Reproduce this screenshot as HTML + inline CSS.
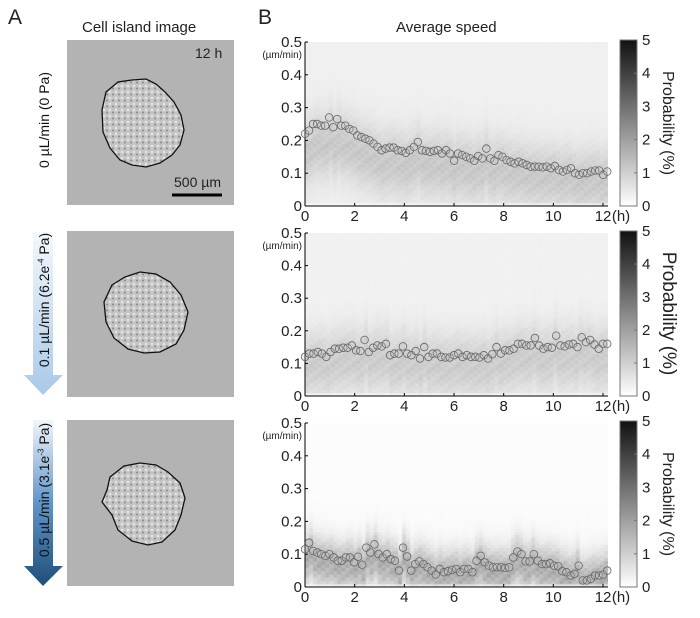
<!DOCTYPE html>
<html><head><meta charset="utf-8">
<style>
body{margin:0;background:#fff;font-family:"Liberation Sans",sans-serif;}
#root{position:relative;width:700px;height:618px;overflow:hidden;}
.abs{position:absolute;}
.t{position:absolute;font-size:15px;color:#222;white-space:nowrap;}
.rot{position:absolute;transform:translate(-50%,-50%) rotate(-90deg);white-space:nowrap;font-size:14px;color:#111;}
</style></head>
<body>
<div id="root">
<div class="t" style="left:8px;top:6px;font-size:21px">A</div>
<div class="t" style="left:258px;top:6px;font-size:21px">B</div>
<div class="t" style="left:82px;top:19px;font-size:15px">Cell island image</div>
<div class="t" style="left:396px;top:19px;font-size:15px">Average speed</div>

<svg class="abs" style="left:0;top:0" width="260" height="618">
<defs>
<linearGradient id="g1" x1="0" y1="0" x2="0" y2="1"><stop offset="0" stop-color="#f4f8fc"/><stop offset="1" stop-color="#a8c9e8"/></linearGradient>
<linearGradient id="g2" x1="0" y1="0" x2="0" y2="1"><stop offset="0" stop-color="#f2f6fb"/><stop offset="0.5" stop-color="#5f95c9"/><stop offset="1" stop-color="#1f4e7a"/></linearGradient>
<pattern id="speck" width="6" height="6" patternUnits="userSpaceOnUse"><rect width="6" height="6" fill="#c4c4c4"/><circle cx="2" cy="2" r="1.3" fill="#e4e4e4"/><circle cx="5" cy="4.5" r="1" fill="#8a8a8a"/></pattern>
</defs>
<g><polygon points="33,232 53,232 53,375 63,375 43,395 24,375 33,375" fill="url(#g1)"/></g>
<g><polygon points="33,420 53,420 53,566 63,566 43,586 24,566 33,566" fill="url(#g2)"/></g>
<g>
<rect x="67" y="40" width="167" height="165" fill="#b3b3b3"/>
<path d="M106,92 L118,82 L132,80 L146,79 L156,84 L165,92 L174,102 L181,115 L184,130 L180,145 L172,155 L160,163 L146,167 L132,165 L120,160 L110,148 L103,132 L102,110 Z" fill="url(#speck)" stroke="#111" stroke-width="1.3"/>
<line x1="172" y1="195" x2="222" y2="195" stroke="#000" stroke-width="3"/>
</g>
<g>
<rect x="67" y="231" width="167" height="166" fill="#b3b3b3"/>
<path d="M112,285 L125,277 L140,272 L156,274 L170,282 L181,295 L188,312 L184,330 L176,344 L160,352 L144,353 L128,349 L114,338 L106,322 L104,302 Z" fill="url(#speck)" stroke="#111" stroke-width="1.3"/>
</g>
<g>
<rect x="67" y="420" width="167" height="166" fill="#b3b3b3"/>
<path d="M110,477 L124,466 L140,463 L156,465 L168,472 L180,483 L185,498 L181,515 L175,530 L162,542 L148,545 L132,541 L118,530 L112,515 L102,502 L107,490 Z" fill="url(#speck)" stroke="#111" stroke-width="1.3"/>
</g>
</svg>
<div class="t" style="left:195px;top:45px;font-size:14px">12 h</div>
<div class="t" style="left:174px;top:174px;font-size:14px">500 µm</div>
<div class="rot" style="left:44px;top:120px">0 µL/min (0 Pa)</div>
<div class="rot" style="left:44px;top:300px">0.1 µL/min (6.2e<sup style="font-size:8px">-4</sup> Pa)</div>
<div class="rot" style="left:44px;top:490px">0.5 µL/min (3.1e<sup style="font-size:8px">-3</sup> Pa)</div>

<div id="charts"></div>
</div>
<script>
// Data: average speed (µm/min) vs time (h), three flow conditions
const speed0 = [0.22,0.23,0.25,0.25,0.245,0.245,0.27,0.24,0.265,0.245,0.245,0.235,0.23,0.215,0.21,0.205,0.20,0.19,0.18,0.17,0.175,0.178,0.178,0.17,0.168,0.162,0.17,0.18,0.195,0.17,0.168,0.165,0.168,0.17,0.16,0.17,0.16,0.138,0.16,0.155,0.15,0.145,0.138,0.152,0.145,0.175,0.145,0.138,0.155,0.15,0.14,0.135,0.13,0.135,0.13,0.125,0.12,0.12,0.12,0.118,0.12,0.115,0.122,0.11,0.105,0.11,0.115,0.10,0.095,0.10,0.10,0.105,0.108,0.108,0.095,0.105];
const speed1 = [0.12,0.13,0.13,0.135,0.13,0.12,0.135,0.145,0.145,0.148,0.148,0.155,0.14,0.138,0.172,0.135,0.148,0.155,0.152,0.16,0.125,0.13,0.13,0.152,0.13,0.125,0.138,0.115,0.15,0.12,0.13,0.13,0.12,0.118,0.118,0.125,0.13,0.12,0.125,0.12,0.12,0.118,0.125,0.115,0.128,0.15,0.13,0.14,0.14,0.145,0.16,0.16,0.155,0.155,0.178,0.155,0.145,0.15,0.148,0.185,0.155,0.152,0.158,0.16,0.15,0.18,0.165,0.172,0.158,0.145,0.16,0.16];
const speed2 = [0.115,0.135,0.11,0.105,0.10,0.095,0.10,0.09,0.08,0.08,0.09,0.09,0.075,0.092,0.068,0.12,0.105,0.13,0.10,0.09,0.10,0.085,0.08,0.05,0.12,0.093,0.05,0.07,0.078,0.07,0.06,0.05,0.038,0.055,0.045,0.048,0.052,0.055,0.045,0.055,0.055,0.045,0.08,0.095,0.075,0.065,0.06,0.06,0.06,0.058,0.06,0.09,0.108,0.10,0.078,0.078,0.10,0.08,0.07,0.07,0.072,0.065,0.063,0.048,0.045,0.035,0.04,0.065,0.02,0.02,0.025,0.035,0.035,0.038,0.05];
// Heatmap intensity parameters (background %, peak %, spread µm/min) per panel
const bgProb = [0.25, 0.22, 0.01];
const peakProb = [0.85, 0.8, 1.6];
const spreadVal = [0.07, 0.07, 0.05];
const xTicks = [0,2,4,6,8,10,12];
const yTicks = [0,0.1,0.2,0.3,0.4,0.5];
const cbTicks = [0,1,2,3,4,5];
const tMax = 12.17;

const panels = [{top:42,bot:206,data:speed0,cbLabelSize:16},{top:233,bot:396,data:speed1,cbLabelSize:19},{top:423,bot:587,data:speed2,cbLabelSize:16}];
const X0=305, X1=608;
const NS='http://www.w3.org/2000/svg';
panels.forEach((p,pi)=>{
  const xs=t=>X0+(t/12.2)*(X1-X0);
  const ys=v=>p.bot-(v/0.5)*(p.bot-p.top);
  const cv=document.createElement('canvas');
  cv.width=X1-X0; cv.height=p.bot-p.top;
  cv.style.cssText=`position:absolute;left:${X0}px;top:${p.top}px`;
  
  
  document.getElementById('root').appendChild(cv);
  const ctx=cv.getContext('2d');
  const n=p.data.length, cw=(X1-X0)/n;
  for(let i=0;i<n;i++){
    const m=p.data[i]*0.75;
    for(let b=0;b<50;b++){
      const v=(b+0.5)*0.01;
      let pr=bgProb[pi]*(pi==2?Math.max(0,1-v/0.3)*8:1)+peakProb[pi]*Math.exp(-((v-m)**2)/(2*spreadVal[pi]**2))*(0.8+0.4*((i*7+b*3)%5)/5);
      if(v<0.015) pr*=0.4;
      const g=Math.max(0,Math.min(255,Math.round(252-pr/5*240)));
      ctx.fillStyle=`rgb(${g},${g},${g})`;
      const y0=ys(v+0.005)-p.top, y1=ys(v-0.005)-p.top;
      ctx.fillRect(i*cw,y0,cw+0.5,y1-y0+0.5);
    }
  }
  const svg=document.createElementNS(NS,'svg');
  svg.setAttribute('width',700);svg.setAttribute('height',618);
  svg.style.cssText='position:absolute;left:0;top:0';
  
  
  let h='';
  h+=`<g><line x1="${X0}" y1="${p.top}" x2="${X0}" y2="${p.bot}" stroke="#000"/><line x1="${X0}" y1="${p.bot}" x2="${X1}" y2="${p.bot}" stroke="#000"/></g>`;
  xTicks.forEach(t=>{h+=`<line x1="${xs(t)}" y1="${p.bot}" x2="${xs(t)}" y2="${p.bot-3}" stroke="#000"/><text x="${xs(t)}" y="${p.bot+15}" font-size="15" text-anchor="middle" fill="#222">${t}</text>`;});
  h+=`<text x="${X1+13}" y="${p.bot+15}" font-size="15" text-anchor="middle" fill="#222">(h)</text>`;
  yTicks.forEach(v=>{h+=`<line x1="${X0}" y1="${ys(v)}" x2="${X0+3}" y2="${ys(v)}" stroke="#000"/><text x="${X0-3}" y="${ys(v)+5}" font-size="15" text-anchor="end" fill="#222">${v}</text>`;});
  h+=`<text x="${X0-3}" y="${p.top+16}" font-size="10" text-anchor="end" fill="#222">(µm/min)</text>`;
  p.data.forEach((v,i)=>{const t=i*tMax/(n-1);h+=`<circle cx="${xs(t)}" cy="${ys(v)}" r="3.8" fill="rgba(200,200,200,0.25)" stroke="#666" stroke-width="0.8"/>`;});
  const cbT=p.top-2,cbB=p.bot;
  h+=`<defs><linearGradient id="cb${pi}" x1="0" y1="1" x2="0" y2="0"><stop offset="0" stop-color="#fff"/><stop offset="1" stop-color="#111"/></linearGradient></defs>`;
  h+=`<rect x="620" y="${cbT}" width="17" height="${cbB-cbT}" fill="url(#cb${pi})" stroke="#777"/>`;
  cbTicks.forEach(c=>{const y=cbB-c/5*(cbB-cbT);h+=`<line x1="634" y1="${y}" x2="637" y2="${y}" stroke="#777"/><text x="642" y="${y+5}" font-size="15" fill="#222">${c}</text>`;});
  h+=`<text transform="translate(663,${(cbT+cbB)/2}) rotate(90)" font-size="${p.cbLabelSize}" text-anchor="middle" fill="#222">Probability (%)</text>`;
  svg.innerHTML=h;
  document.getElementById('root').appendChild(svg);
});
</script>
</body></html>
